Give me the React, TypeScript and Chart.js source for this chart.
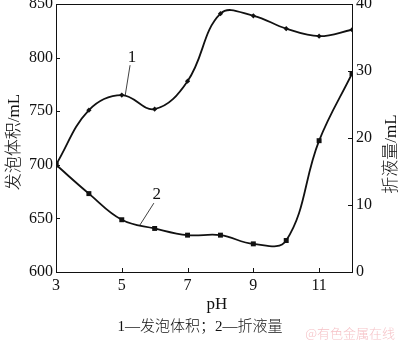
import React, { useEffect, useRef } from "react";
import { Chart, registerables } from "chart.js";

Chart.register(...registerables);

const phValues = [3, 4, 5, 6, 7, 8, 9, 10, 11, 12];
const foamVolume = [700, 751, 765, 752, 778, 841, 839, 827, 820, 826];
const drainage = [16, 11.7, 7.8, 6.5, 5.5, 5.5, 4.2, 4.7, 19.6, 29.6];
const xTicks = [3, 5, 7, 9, 11];
const leftTicks = [600, 650, 700, 750, 800, 850];
const rightTicks = [0, 10, 20, 30, 40];

const leftTitle = "发泡体积/mL";
const rightTitle = "折液量/mL";
const xTitle = "pH";
const caption = "1—发泡体积；2—折液量";
const watermark = "@有色金属在线";

const SERIF = "'Liberation Serif', 'Noto Sans CJK SC', serif";

const decorPlugin = {
  id: "decor",
  afterDraw(chart: any) {
    const ctx = chart.ctx;
    const ca = chart.chartArea;
    const xs = chart.scales.x;
    const yl = chart.scales.yL;
    const yr = chart.scales.yR;
    ctx.save();
    // frame
    ctx.strokeStyle = "#111";
    ctx.lineWidth = 1;
    ctx.strokeRect(Math.round(ca.left) + 0.5, Math.round(ca.top) + 0.5, Math.round(ca.right - ca.left), Math.round(ca.bottom - ca.top));
    // inward ticks
    const tl = 4;
    ctx.beginPath();
    xTicks.forEach((v) => {
      const px = Math.round(xs.getPixelForValue(v)) + 0.5;
      ctx.moveTo(px, ca.bottom);
      ctx.lineTo(px, ca.bottom - tl);
    });
    leftTicks.forEach((v) => {
      const py = Math.round(yl.getPixelForValue(v)) + 0.5;
      ctx.moveTo(ca.left, py);
      ctx.lineTo(ca.left + tl, py);
    });
    rightTicks.forEach((v) => {
      const py = Math.round(yr.getPixelForValue(v)) + 0.5;
      ctx.moveTo(ca.right, py);
      ctx.lineTo(ca.right - tl, py);
    });
    ctx.stroke();

    ctx.fillStyle = "#111";
    ctx.textAlign = "center";
    ctx.textBaseline = "middle";
    // left title
    ctx.font = `300 17px ${SERIF}`;
    ctx.save();
    ctx.translate(15, (ca.top + ca.bottom) / 2 + 4);
    ctx.rotate(-Math.PI / 2);
    ctx.fillText(leftTitle, 0, 0);
    ctx.restore();
    // right title
    ctx.save();
    ctx.translate(392, (ca.top + ca.bottom) / 2 + 16);
    ctx.rotate(-Math.PI / 2);
    ctx.fillText(rightTitle, 0, 0);
    ctx.restore();
    // x title
    ctx.font = `17px ${SERIF}`;
    ctx.fillText(xTitle, (ca.left + ca.right) / 2 + 13, 305);
    // caption
    ctx.font = `300 15px ${SERIF}`;
    ctx.fillText(caption, 200, 327);
    // watermark
    ctx.font = `300 13px 'Noto Sans CJK SC', sans-serif`;
    ctx.fillStyle = "rgba(236, 140, 150, 0.55)";
    ctx.textAlign = "right";
    ctx.fillText(watermark, 395, 333);

    // curve labels and leader lines
    ctx.fillStyle = "#111";
    ctx.textAlign = "center";
    ctx.font = `17px ${SERIF}`;
    const p1x = xs.getPixelForValue(5.1);
    const p1y = yl.getPixelForValue(764);
    ctx.fillText("1", p1x + 7, p1y - 39);
    const p2x = xs.getPixelForValue(5.55);
    const p2y = yr.getPixelForValue(7.0);
    ctx.fillText("2", p2x + 17, p2y - 31);
    ctx.lineWidth = 0.8;
    ctx.beginPath();
    ctx.moveTo(p1x + 5, p1y - 31);
    ctx.lineTo(p1x, p1y);
    ctx.moveTo(p2x + 14, p2y - 22);
    ctx.lineTo(p2x, p2y);
    ctx.stroke();
    ctx.restore();
  },
};

export default function App() {
  const ref = useRef<HTMLCanvasElement | null>(null);
  useEffect(() => {
    if (!ref.current) return;
    const chart = new Chart(ref.current, {
      type: "line",
      data: {
        datasets: [
          {
            label: "发泡体积",
            data: phValues.map((x, i) => ({ x, y: foamVolume[i] })),
            yAxisID: "yL",
            borderColor: "#111",
            backgroundColor: "#111",
            borderWidth: 1.8,
            tension: 0.4,
            pointStyle: phValues.map((_, i) => (i === 0 ? "rect" : "rectRot")) as any,
            pointRadius: phValues.map((_, i) => (i === 0 ? 3.5 : 2.6)),
            pointBorderWidth: 0,
          },
          {
            label: "折液量",
            data: phValues.map((x, i) => ({ x, y: drainage[i] })),
            yAxisID: "yR",
            borderColor: "#111",
            backgroundColor: "#111",
            borderWidth: 1.8,
            tension: 0.4,
            pointStyle: "rect",
            pointRadius: 3.5,
            pointBorderWidth: 0,
          },
        ],
      },
      options: {
        responsive: false,
        animation: false,
        layout: { padding: { top: 4, left: 0, right: 0, bottom: 0 } },
        plugins: {
          legend: { display: false },
          tooltip: { enabled: false },
        },
        scales: {
          x: {
            type: "linear",
            min: 3,
            max: 12,
            afterBuildTicks: (s: any) => {
              s.ticks = xTicks.map((v) => ({ value: v }));
            },
            afterFit: (s: any) => {
              s.height = 70;
              s.paddingLeft = 0;
              s.paddingRight = 0;
            },
            grid: { display: false, drawTicks: false },
            border: { display: true, color: "#111" },
            ticks: {
              color: "#111",
              font: { family: SERIF, size: 16 },
              padding: 4,
              maxRotation: 0,
            },
          },
          yL: {
            type: "linear",
            position: "left",
            min: 600,
            max: 850,
            afterBuildTicks: (s: any) => {
              s.ticks = leftTicks.map((v) => ({ value: v }));
            },
            afterFit: (s: any) => {
              s.width = 56;
              s.paddingTop = 0;
              s.paddingBottom = 0;
            },
            grid: { display: false, drawTicks: false },
            border: { display: true, color: "#111" },
            ticks: {
              color: "#111",
              font: { family: SERIF, size: 16 },
              padding: 3,
            },
          },
          yR: {
            type: "linear",
            position: "right",
            min: 0,
            max: 40,
            afterBuildTicks: (s: any) => {
              s.ticks = rightTicks.map((v) => ({ value: v }));
            },
            afterFit: (s: any) => {
              s.width = 48;
              s.paddingTop = 0;
              s.paddingBottom = 0;
            },
            grid: { display: false, drawTicks: false },
            border: { display: true, color: "#111" },
            ticks: {
              color: "#111",
              font: { family: SERIF, size: 16 },
              padding: 4,
            },
          },
        },
      },
      plugins: [decorPlugin],
    } as any);
    return () => chart.destroy();
  }, []);
  return (
    <div style={{ position: "absolute", left: 0, top: 0, width: 400, height: 342, background: "#fff" }}>
      <canvas ref={ref} width={400} height={342} />
    </div>
  );
}
